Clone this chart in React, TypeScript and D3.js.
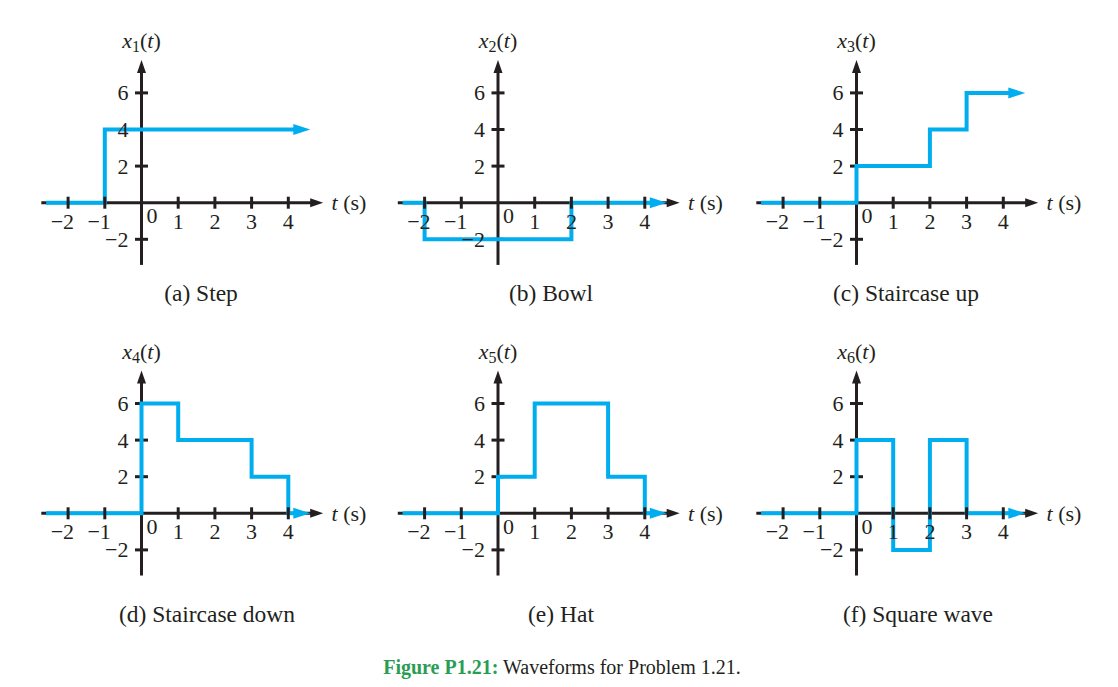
import * as d3 from 'd3';

// waveform breakpoints: value holds from each t until the next one
const stepT = [-2.6, -1, 4.6];
const stepV = [0, 4, 4];
const bowlT = [-2.6, -2, 2, 4.6];
const bowlV = [0, -2, 0, 0];
const upT = [-2.6, 0, 2, 3, 4.6];
const upV = [0, 2, 4, 6, 6];
const downT = [-2.6, 0, 1, 3, 4, 4.6];
const downV = [0, 6, 4, 2, 0, 0];
const hatT = [-2.6, 0, 1, 3, 4, 4.6];
const hatV = [0, 2, 6, 2, 0, 0];
const sqT = [-2.6, 0, 1, 2, 3, 4.6];
const sqV = [0, 4, -2, 4, 0, 0];

const xTicks = [-2, -1, 1, 2, 3, 4];
const yTicks = [-2, 2, 4, 6];
const captions = ['(a) Step', '(b) Bowl', '(c) Staircase up', '(d) Staircase down', '(e) Hat', '(f) Square wave'];

const INK = '#231f20';
const BLUE = '#00aeef';
const FONT = '"Liberation Serif", "Times New Roman", serif';

const panels = [
  { n: 1, t: stepT, v: stepV, ox: 141.5, oy: 202.7, cx: 201, cy: 301 },
  { n: 2, t: bowlT, v: bowlV, ox: 498, oy: 202.7, cx: 551, cy: 301 },
  { n: 3, t: upT, v: upV, ox: 856.5, oy: 202.7, cx: 906, cy: 301 },
  { n: 4, t: downT, v: downV, ox: 141.5, oy: 513.3, cx: 207, cy: 622 },
  { n: 5, t: hatT, v: hatV, ox: 498, oy: 513.3, cx: 561, cy: 622 },
  { n: 6, t: sqT, v: sqV, ox: 856.5, oy: 513.3, cx: 918, cy: 622 },
];

const Panel = ({ p }: any) => {
  const x = d3.scaleLinear().domain([0, 1]).range([p.ox, p.ox + 36.7]);
  const y = d3.scaleLinear().domain([0, 2]).range([p.oy, p.oy - 36.6]);
  const pts: [number, number][] = p.t.map((t: number, i: number) => [t, p.v[i]]);
  const line = d3.line<[number, number]>()
    .x(d => x(d[0]))
    .y(d => y(d[1]))
    .curve(d3.curveStepAfter);

  const last = pts[pts.length - 1];
  const tipX = x(last[0]);
  const tipY = y(last[1]);
  // pull the blue line back so it stops at the arrow head
  const bodyPts = pts.slice(0, -1).concat([[last[0] - 14 / 36.7, last[1]]]);

  const axTip = x(4.95);
  const ayTip = y(7.8);

  return (
    <g>
      {/* axes */}
      <line x1={x(-2.73)} x2={axTip - 8} y1={y(0)} y2={y(0)} stroke={INK} strokeWidth={3} />
      <path d={`M${axTip},${y(0)} L${axTip - 13},${y(0) - 4.5} L${axTip - 13},${y(0) + 4.5} Z`} fill={INK} />
      <line x1={x(0)} x2={x(0)} y1={y(-3.4)} y2={ayTip + 8} stroke={INK} strokeWidth={3} />
      <path d={`M${x(0)},${ayTip} L${x(0) - 4.5},${ayTip + 13} L${x(0) + 4.5},${ayTip + 13} Z`} fill={INK} />
      {yTicks.map(v => (
        <line key={v} x1={x(0) - 6.5} x2={x(0) + 6.5} y1={y(v)} y2={y(v)} stroke={INK} strokeWidth={3} />
      ))}

      {/* waveform */}
      <path d={line(bodyPts) || ''} fill="none" stroke={BLUE} strokeWidth={4} strokeLinejoin="miter" />
      <path d={`M${tipX},${tipY} L${tipX - 17},${tipY - 5.5} L${tipX - 17},${tipY + 5.5} Z`} fill={BLUE} />

      {xTicks.map(t => (
        <line key={t} x1={x(t)} x2={x(t)} y1={y(0) - 6} y2={y(0) + 6} stroke={INK} strokeWidth={3} />
      ))}

      {/* tick labels */}
      <g fontFamily={FONT} fontSize={22} fill={INK}>
        {xTicks.map(t => (
          <text key={t} x={t < 0 ? x(t) + 6 : x(t)} y={y(0) + 26} textAnchor={t < 0 ? 'end' : 'middle'}>
            {t < 0 ? `\u2212${-t}` : t}
          </text>
        ))}
        <text x={x(0) + 10.5} y={y(0) + 20.5} textAnchor="middle">0</text>
        {yTicks.map(v => (
          <text key={v} x={x(0) - 13} y={y(v) + 7.5} textAnchor="end">
            {v < 0 ? `\u2212${-v}` : v}
          </text>
        ))}
        <text x={x(5.18)} y={y(0) + 7.5}>
          <tspan fontStyle="italic">t</tspan> (s)
        </text>
        <text x={x(0)} y={p.oy - 154.7} textAnchor="middle">
          <tspan fontStyle="italic">x</tspan>
          <tspan fontSize={16} dy={4}>{p.n}</tspan>
          <tspan dy={-4}>(</tspan>
          <tspan fontStyle="italic">t</tspan>
          <tspan>)</tspan>
        </text>
      </g>

      <text x={p.cx} y={p.cy} textAnchor="middle" fontFamily={FONT} fontSize={23.5} fill={INK}>
        {captions[p.n - 1]}
      </text>
    </g>
  );
};

export default function App() {
  return (
    <svg width={1118} height={687} style={{ position: 'absolute', left: 0, top: 0, background: '#fff' }}>
      <rect width={1118} height={687} fill="#fff" />
      {panels.map(p => <Panel key={p.n} p={p} />)}
      <text x={562} y={673.5} textAnchor="middle" fontFamily={FONT} fontSize={20} fill={INK}>
        <tspan fill="#2a9d55" fontWeight="bold">Figure P1.21:</tspan> Waveforms for Problem 1.21.
      </text>
    </svg>
  );
}
